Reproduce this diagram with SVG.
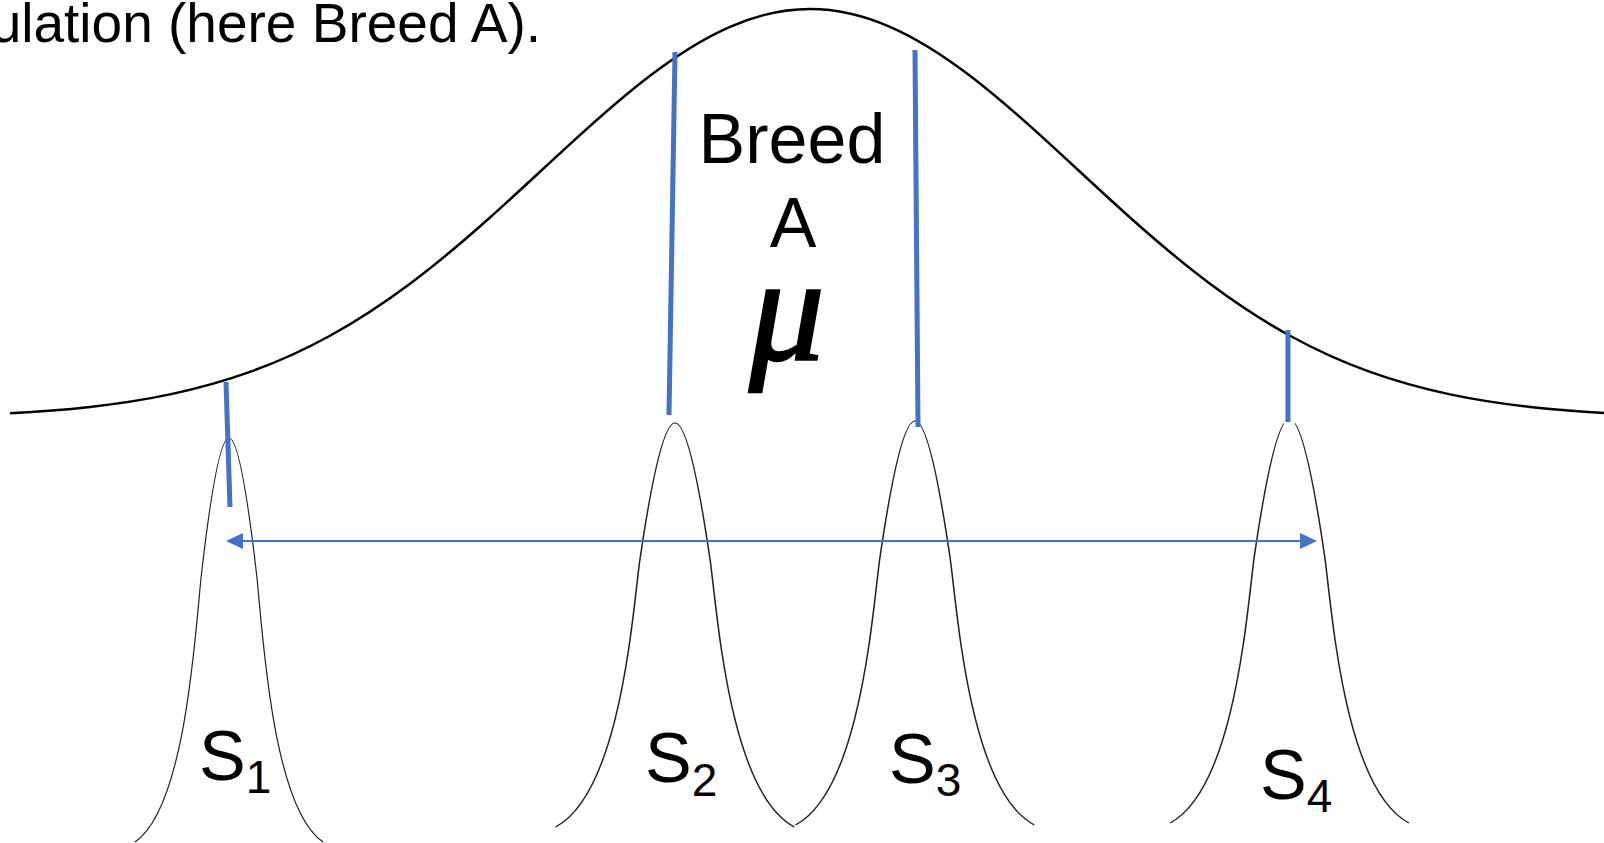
<svg xmlns="http://www.w3.org/2000/svg" width="1604" height="843" viewBox="0 0 1604 843">
  <style>
    .txt { font-family: "Liberation Sans", Arial, sans-serif; fill: #000; }
    .bell { fill: none; stroke: #222; stroke-width: 1.2; }
    .big { fill: none; stroke: #000; stroke-width: 2.5; }
    .tick { stroke: #4472C4; stroke-width: 5; stroke-linecap: butt; fill: none; }
    .arrow { stroke: #4472C4; stroke-width: 2; fill: none; }
  </style>
  <defs>
    <path id="bell" d="M-94,404 C-44,370 -34,200 -28,140 C-20,70 -10,0 0,0 C10,0 20,70 28,140 C34,200 44,370 94,404"/>
    <marker id="ah" markerUnits="userSpaceOnUse" markerWidth="17" markerHeight="16" refX="13" refY="8" orient="auto-start-reverse">
      <path d="M0,0 L17,8 L0,16 z" fill="#4472C4"/>
    </marker>
    <mask id="s4gap" maskUnits="userSpaceOnUse" x="0" y="0" width="1604" height="843">
      <rect x="0" y="0" width="1604" height="843" fill="#fff"/>
      <rect x="1284" y="400" width="11" height="26" fill="#000"/>
    </mask>
  </defs>

  <text class="txt" x="541" y="42" font-size="55" text-anchor="end">ulation (here Breed A).</text>

  <g id="breedA">
    <path class="big" d="M10,413.25 C36.67,411.84 63.33,409.88 90,406.92 C116.67,403.96 143.33,399.98 170,394.36 C196.67,388.74 223.33,381.49 250,371.91 C276.67,362.33 303.33,350.40 330,335.74 C356.67,321.08 383.33,303.66 410,283.72 C436.67,263.78 463.33,241.32 490,217.50 C516.67,193.68 543.33,168.51 570,144.10 C596.67,119.69 623.33,96.09 650,75.76 C676.67,55.43 703.33,38.44 730,26.82 C756.67,15.20 783.33,9 810,9 C836.67,9 863.33,15.20 890,26.82 C916.67,38.44 943.33,55.43 970,75.76 C996.67,96.09 1023.33,119.69 1050,144.10 C1076.67,168.51 1103.33,193.68 1130,217.50 C1156.67,241.32 1183.33,263.78 1210,283.72 C1236.67,303.66 1263.33,321.08 1290,335.74 C1316.67,350.40 1343.33,362.33 1370,371.91 C1396.67,381.49 1423.33,388.74 1450,394.36 C1476.67,399.98 1503.33,403.96 1530,406.92 C1556.67,409.88 1583.33,411.84 1610,413.25"/>
    <text class="txt" x="792" y="163" font-size="70" text-anchor="middle">Breed</text>
    <text class="txt" x="793" y="247" font-size="70" text-anchor="middle">A</text>
    <text x="787" y="360" font-size="150" font-style="italic" text-anchor="middle" font-family="'Liberation Serif', 'Times New Roman', serif" fill="#000" stroke="#000" stroke-width="2.5">μ</text>
  </g>

  <g id="s1">
    <use href="#bell" class="bell" transform="translate(229,438)"/>
    <text class="txt" x="199" y="780" font-size="70">S<tspan font-size="46" dy="13">1</tspan></text>
  </g>
  <g id="s2">
    <use href="#bell" class="bell" transform="translate(675,423) scale(1.27,1)"/>
    <text class="txt" x="645" y="782" font-size="70">S<tspan font-size="46" dy="14">2</tspan></text>
  </g>
  <g id="s3">
    <use href="#bell" class="bell" transform="translate(915,421) scale(1.27,1)"/>
    <text class="txt" x="889" y="783" font-size="70">S<tspan font-size="46" dy="13">3</tspan></text>
  </g>
  <g id="s4">
    <g mask="url(#s4gap)">
      <use href="#bell" class="bell" transform="translate(1289.5,419) scale(1.27,1)"/>
    </g>
    <text class="txt" x="1260" y="799" font-size="70">S<tspan font-size="46" dy="13">4</tspan></text>
  </g>

  <g id="connectors">
    <line class="tick" x1="226" y1="382" x2="230" y2="507"/>
    <line class="tick" x1="675" y1="52" x2="669" y2="415"/>
    <line class="tick" x1="915" y1="50" x2="918" y2="427"/>
    <line class="tick" x1="1288" y1="330" x2="1288" y2="422"/>
    <line class="arrow" x1="230" y1="541" x2="1313" y2="541" marker-start="url(#ah)" marker-end="url(#ah)"/>
  </g>
</svg>
